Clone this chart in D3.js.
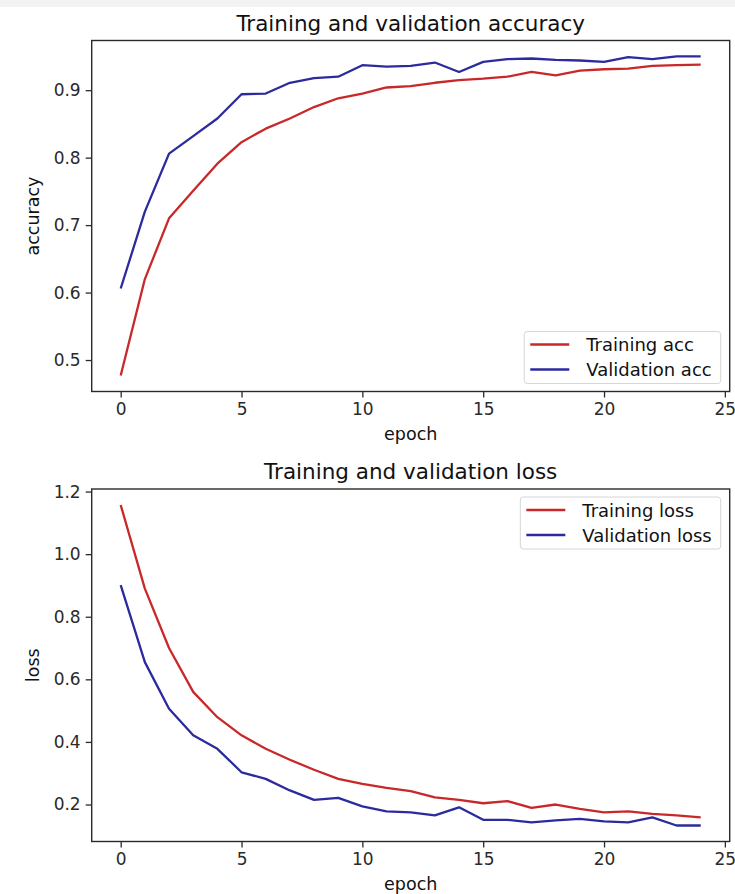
<!DOCTYPE html>
<html>
<head>
<meta charset="utf-8">
<script src="https://cdnjs.cloudflare.com/ajax/libs/d3/7.8.5/d3.min.js"></script>
<style>
  html, body { margin: 0; padding: 0; background: #fff; }
  svg { display: block; font-family: "DejaVu Sans", sans-serif; }
</style>
</head>
<body>
<svg id="chart" width="735" height="894"></svg>
<script>
// Epoch index shared by both panels
const epochs = [0,1,2,3,4,5,6,7,8,9,10,11,12,13,14,15,16,17,18,19,20,21,22,23,24];

// Accuracy per epoch
const trainAcc = [0.477,0.620,0.710,0.751,0.791,0.823,0.843,0.858,0.875,0.888,0.895,0.904,0.906,
                  0.911,0.915,0.917,0.920,0.927,0.922,0.929,0.931,0.932,0.936,0.937,0.938];
const valAcc   = [0.606,0.720,0.806,0.832,0.858,0.894,0.895,0.911,0.918,0.920,0.937,0.935,0.936,
                  0.941,0.927,0.942,0.946,0.947,0.945,0.944,0.942,0.949,0.946,0.950,0.950];

// Loss per epoch
const trainLoss = [1.157,0.890,0.700,0.560,0.479,0.421,0.378,0.343,0.311,0.282,0.266,0.253,0.243,
                   0.223,0.215,0.204,0.211,0.189,0.200,0.186,0.175,0.178,0.170,0.165,0.159];
const valLoss   = [0.901,0.655,0.506,0.421,0.378,0.303,0.282,0.245,0.215,0.221,0.194,0.178,0.175,
                   0.165,0.191,0.151,0.151,0.143,0.149,0.154,0.146,0.143,0.159,0.133,0.133];

// Tick labels
const xTicks = [0,5,10,15,20,25];
const accTicks = [0.5,0.6,0.7,0.8,0.9];
const lossTicks = [0.2,0.4,0.6,0.8,1.0,1.2];

const RED = "#c8282a";
const BLUE = "#2b2b9e";
const INK = "#2a2a2a";

const svg = d3.select("#chart");

// faint strip along the top edge
svg.append("rect").attr("x", 0).attr("y", 0).attr("width", 735).attr("height", 7).attr("fill", "#f3f3f3");

const left = 91.7, right = 729.7;

// matplotlib-style 5% data margins
function padded(ext) {
  const m = (ext[1] - ext[0]) * 0.05;
  return [ext[0] - m, ext[1] + m];
}

function panel(cfg) {
  const g = svg.append("g");
  const x = d3.scaleLinear().domain(padded(d3.extent(epochs))).range([left, right]);
  const all = cfg.series.flatMap(s => s.values);
  const y = d3.scaleLinear().domain(padded(d3.extent(all))).range([cfg.bottom, cfg.top]);

  // axes
  const xAxis = d3.axisBottom(x).tickValues(xTicks).tickFormat(d3.format("d")).tickSize(6).tickPadding(5);
  const yAxis = d3.axisLeft(y).tickValues(cfg.yTicks).tickFormat(d3.format(".1f")).tickSize(6).tickPadding(5);

  const gx = g.append("g").attr("transform", `translate(0,${cfg.bottom})`).call(xAxis);
  const gy = g.append("g").attr("transform", `translate(${left},0)`).call(yAxis);
  [gx, gy].forEach(a => {
    a.select(".domain").remove();
    a.selectAll(".tick line").attr("stroke", INK).attr("stroke-width", 1.3);
    a.selectAll(".tick text").attr("fill", INK).style("font-size", "17px")
      .style("font-family", "DejaVu Sans, sans-serif");
  });

  // lines
  const line = vals => d3.line().x((d, i) => x(epochs[i])).y(d => y(d))(vals);
  cfg.series.forEach(s => {
    g.append("path").attr("d", line(s.values)).attr("fill", "none")
      .attr("stroke", s.color).attr("stroke-width", 2.3).attr("stroke-linejoin", "round");
  });

  // frame
  g.append("rect").attr("x", left).attr("y", cfg.top)
    .attr("width", right - left).attr("height", cfg.bottom - cfg.top)
    .attr("fill", "none").attr("stroke", INK).attr("stroke-width", 1.4);

  // title and labels
  g.append("text").attr("x", (left + right) / 2).attr("y", cfg.top - 10)
    .attr("text-anchor", "middle").attr("fill", "#111").style("font-size", "21.5px").text(cfg.title);
  g.append("text").attr("x", (left + right) / 2).attr("y", cfg.bottom + 48)
    .attr("text-anchor", "middle").attr("fill", "#111").style("font-size", "17.5px").text("epoch");
  g.append("text")
    .attr("transform", `translate(39,${(cfg.top + cfg.bottom) / 2}) rotate(-90)`)
    .attr("text-anchor", "middle").attr("fill", "#111").style("font-size", "17.5px").text(cfg.ylabel);

  // legend
  const lg = g.append("g");
  const box = lg.append("rect").attr("fill", "#fff").attr("fill-opacity", 0.85)
    .attr("stroke", "#d6d6d6").attr("stroke-width", 1).attr("rx", 3);
  const rowH = 25, boxH = 52;
  const texts = [];
  cfg.series.forEach((s, i) => {
    const row = lg.append("g").attr("transform", `translate(0,${13 + i * rowH})`);
    row.append("line").attr("x1", 6).attr("x2", 45).attr("y1", 0).attr("y2", 0)
      .attr("stroke", s.color).attr("stroke-width", 2.3);
    texts.push(row.append("text").attr("x", 62).attr("y", 6.5).attr("fill", "#111")
      .style("font-size", "18px").text(s.label));
  });
  const tw = d3.max(texts, t => t.node().getComputedTextLength());
  const boxW = 62 + tw + 9;
  box.attr("x", 0).attr("y", 0).attr("width", boxW).attr("height", boxH);
  const lx = right - 9 - boxW;
  const ly = cfg.legend === "lower" ? cfg.bottom - 8 - boxH : cfg.top + 8;
  lg.attr("transform", `translate(${lx},${ly})`);
}

panel({
  top: 40.5, bottom: 391.5,
  title: "Training and validation accuracy",
  ylabel: "accuracy",
  yTicks: accTicks,
  legend: "lower",
  series: [
    { label: "Training acc", values: trainAcc, color: RED },
    { label: "Validation acc", values: valAcc, color: BLUE }
  ]
});

panel({
  top: 489, bottom: 841.5,
  title: "Training and validation loss",
  ylabel: "loss",
  yTicks: lossTicks,
  legend: "upper",
  series: [
    { label: "Training loss", values: trainLoss, color: RED },
    { label: "Validation loss", values: valLoss, color: BLUE }
  ]
});
</script>
</body>
</html>
